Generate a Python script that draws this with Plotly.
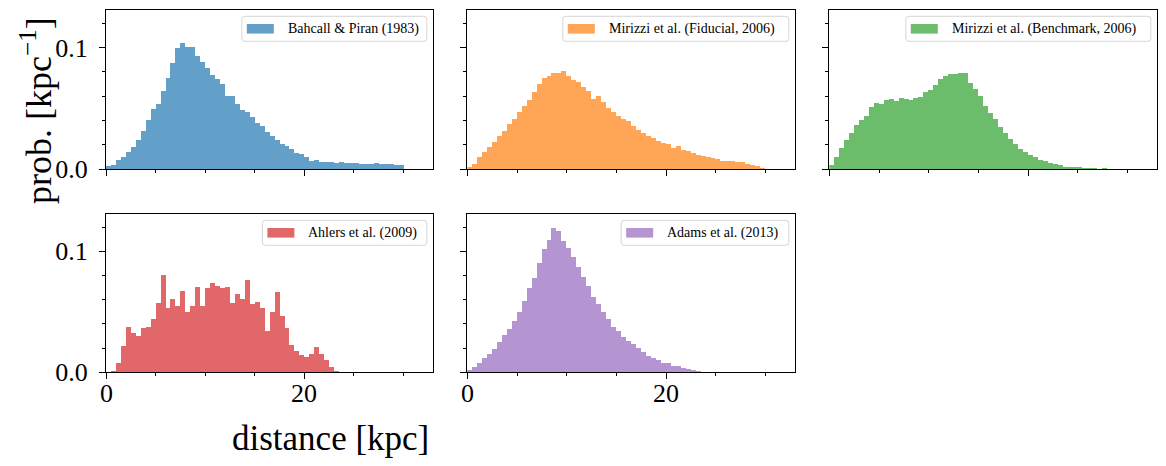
import plotly.graph_objects as go

# ---------------- data (bin heights, prob. per kpc, bin width 0.5 kpc from 0) ----------------
BIN_START = 0.0
BIN_WIDTH = 0.5

labels = ["Bahcall & Piran (1983)", "Mirizzi et al. (Fiducial, 2006)",
          "Mirizzi et al. (Benchmark, 2006)", "Ahlers et al. (2009)", "Adams et al. (2013)"]

X_TICKS = [0, 20]

bahcall = [0.0025, 0.0033, 0.0074, 0.0099, 0.0140, 0.0180, 0.0238, 0.0313, 0.0403, 0.0493,
           0.0535, 0.0641, 0.0748, 0.0872, 0.0995, 0.1036, 0.1003, 0.1003, 0.0929, 0.0880,
           0.0831, 0.0773, 0.0740, 0.0699, 0.0600, 0.0600, 0.0535, 0.0485, 0.0469, 0.0428,
           0.0378, 0.0354, 0.0304, 0.0271, 0.0238, 0.0206, 0.0189, 0.0164, 0.0132, 0.0123,
           0.0099, 0.0066, 0.0074, 0.0058, 0.0058, 0.0058, 0.0049, 0.0058, 0.0049, 0.0049,
           0.0049, 0.0041, 0.0041, 0.0041, 0.0049, 0.0041, 0.0041, 0.0041, 0.0033, 0.0033]

fiducial = [0.0016, 0.0041, 0.0099, 0.0140, 0.0180, 0.0222, 0.0271, 0.0313, 0.0370, 0.0411,
            0.0469, 0.0518, 0.0567, 0.0633, 0.0699, 0.0748, 0.0765, 0.0790, 0.0790, 0.0806,
            0.0765, 0.0732, 0.0715, 0.0674, 0.0641, 0.0576, 0.0600, 0.0551, 0.0502, 0.0469,
            0.0436, 0.0411, 0.0395, 0.0354, 0.0321, 0.0296, 0.0271, 0.0255, 0.0230, 0.0214,
            0.0206, 0.0173, 0.0189, 0.0156, 0.0148, 0.0132, 0.0115, 0.0107, 0.0099, 0.0090,
            0.0082, 0.0066, 0.0066, 0.0066, 0.0058, 0.0058, 0.0041, 0.0033, 0.0025, 0.0008]

benchmark = [0.0033, 0.0099, 0.0173, 0.0238, 0.0296, 0.0362, 0.0403, 0.0436, 0.0510, 0.0543,
             0.0535, 0.0567, 0.0576, 0.0559, 0.0584, 0.0576, 0.0567, 0.0584, 0.0592, 0.0633,
             0.0650, 0.0691, 0.0740, 0.0765, 0.0781, 0.0781, 0.0790, 0.0790, 0.0707, 0.0658,
             0.0600, 0.0518, 0.0461, 0.0411, 0.0345, 0.0296, 0.0247, 0.0206, 0.0164, 0.0140,
             0.0115, 0.0099, 0.0074, 0.0066, 0.0049, 0.0041, 0.0033, 0.0016, 0.0016, 0.0016,
             0.0016, 0.0008, 0.0008, 0.0008, 0.0000, 0.0008]

ahlers = [0.0000, 0.0008, 0.0074, 0.0214, 0.0368, 0.0321, 0.0297, 0.0360, 0.0368, 0.0434,
          0.0574, 0.0805, 0.0525, 0.0607, 0.0549, 0.0673, 0.0500, 0.0549, 0.0706, 0.0549,
          0.0698, 0.0739, 0.0714, 0.0698, 0.0706, 0.0574, 0.0648, 0.0607, 0.0764, 0.0558,
          0.0582, 0.0533, 0.0335, 0.0492, 0.0665, 0.0459, 0.0360, 0.0220, 0.0170, 0.0137,
          0.0121, 0.0146, 0.0203, 0.0146, 0.0096, 0.0038, 0.0008]

adams = [0.0016, 0.0041, 0.0074, 0.0115, 0.0148, 0.0187, 0.0247, 0.0302, 0.0352, 0.0418,
         0.0500, 0.0591, 0.0698, 0.0780, 0.0904, 0.1019, 0.1093, 0.1192, 0.1168, 0.1085,
         0.1027, 0.0953, 0.0871, 0.0788, 0.0714, 0.0624, 0.0558, 0.0500, 0.0434, 0.0376,
         0.0335, 0.0286, 0.0253, 0.0228, 0.0195, 0.0162, 0.0129, 0.0113, 0.0096, 0.0071,
         0.0071, 0.0047, 0.0047, 0.0030, 0.0025, 0.0016, 0.0008]

series = [bahcall, fiducial, benchmark, ahlers, adams]
colors = ["rgba(31,119,180,0.7)", "rgba(255,127,14,0.7)", "rgba(44,160,44,0.7)",
          "rgba(214,39,40,0.7)", "rgba(148,103,189,0.7)"]

# ---------------- layout geometry (pixels) ----------------
W, H = 1166, 466
FONT = "Liberation Serif"
cols = [(106, 433.3), (467.3, 795.3), (829.3, 1157.3)]
rows = [(10.3, 169.3), (214.3, 372.3)]
panel_pos = [(0, 0), (0, 1), (0, 2), (1, 0), (1, 1)]
legend_w = [185, 226, 245, 164.4, 167.6]
X_RANGE = [0, 33]
Y_RANGE = [0, 0.1306]
TICK_SIZE = 26


def px(x):
    return x / W


def py(y):
    return 1 - y / H


def rounded_rect(x0, y0, x1, y1, r):
    pts = []
    pts.append(f"M{px(x0 + r)},{py(y0)}")
    pts.append(f"L{px(x1 - r)},{py(y0)}")
    pts.append(f"Q{px(x1)},{py(y0)} {px(x1)},{py(y0 + r)}")
    pts.append(f"L{px(x1)},{py(y1 - r)}")
    pts.append(f"Q{px(x1)},{py(y1)} {px(x1 - r)},{py(y1)}")
    pts.append(f"L{px(x0 + r)},{py(y1)}")
    pts.append(f"Q{px(x0)},{py(y1)} {px(x0)},{py(y1 - r)}")
    pts.append(f"L{px(x0)},{py(y0 + r)}")
    pts.append(f"Q{px(x0)},{py(y0)} {px(x0 + r)},{py(y0)}")
    pts.append("Z")
    return " ".join(pts)


fig = go.Figure()
shapes = []
annotations = []

for i, (vals, col, lab) in enumerate(zip(series, colors, labels)):
    r, c = panel_pos[i]
    k = "" if i == 0 else str(i + 1)
    centers = [BIN_START + BIN_WIDTH * (j + 0.5) for j in range(len(vals))]
    fig.add_trace(go.Bar(x=centers, y=vals, width=BIN_WIDTH, name=lab,
                         marker=dict(color=col, line=dict(width=0)),
                         xaxis="x" + k, yaxis="y" + k, showlegend=False))
    x0, x1 = cols[c]
    y0, y1 = rows[r]
    axis_common = dict(showline=True, mirror=True, linecolor="black", linewidth=1.2,
                       showgrid=False, zeroline=False, ticks="outside", ticklen=6,
                       tickwidth=1.2, tickcolor="black", automargin=False,
                       tickfont=dict(family=FONT, size=TICK_SIZE, color="black"))
    fig.layout["xaxis" + k] = dict(
        axis_common, domain=[px(x0), px(x1)], range=X_RANGE, anchor="y" + k,
        tickmode="linear", tick0=0, dtick=20, showticklabels=False,
        minor=dict(ticks="outside", ticklen=3, tickwidth=1, tickcolor="black",
                   tick0=0, dtick=5, showgrid=False))
    fig.layout["yaxis" + k] = dict(
        axis_common, domain=[py(y1), py(y0)], range=Y_RANGE, anchor="x" + k,
        tickmode="linear", tick0=0, dtick=0.1, tickformat=".1f",
        showticklabels=(c == 0), ticklabelstandoff=6,
        minor=dict(ticks="outside", ticklen=3, tickwidth=1, tickcolor="black",
                   tick0=0, dtick=0.02, showgrid=False))

    # x tick labels for the bottom row (placed via the axis' own data coordinates)
    if r == 1:
        for t in X_TICKS:
            annotations.append(dict(text=str(t), x=t, xref="x" + k, y=py(y1 + 21), yref="paper",
                                    xanchor="center", yanchor="middle", showarrow=False,
                                    font=dict(family=FONT, size=TICK_SIZE, color="black")))

    # legend box (matplotlib style)
    bx1 = x1 - 6.5
    bx0 = bx1 - legend_w[i]
    by0 = y0 + 6
    by1 = by0 + 25
    shapes.append(dict(type="path", xref="paper", yref="paper",
                       path=rounded_rect(bx0, by0, bx1, by1, 3),
                       fillcolor="rgba(255,255,255,0.8)",
                       line=dict(color="rgba(204,204,204,0.8)", width=1)))
    cy = (by0 + by1) / 2
    shapes.append(dict(type="rect", xref="paper", yref="paper",
                       x0=px(bx0 + 5), x1=px(bx0 + 32), y0=py(cy + 4.8), y1=py(cy - 4.8),
                       fillcolor=col, line=dict(width=0)))
    annotations.append(dict(text=lab, x=px(bx0 + 44), y=py(cy), xref="paper", yref="paper",
                            xanchor="left", yanchor="middle", showarrow=False,
                            font=dict(family=FONT, size=14, color="black")))

annotations.append(dict(text="distance [kpc]", x=px(330), y=py(438), xref="paper", yref="paper",
                        xanchor="center", yanchor="middle", showarrow=False,
                        font=dict(family=FONT, size=35, color="black")))
annotations.append(dict(text="prob. [kpc<sup>−1</sup>]", x=px(36), y=py(111), xref="paper",
                        yref="paper", xanchor="center", yanchor="middle", showarrow=False,
                        textangle=-90, font=dict(family=FONT, size=36, color="black")))

fig.update_layout(width=W, height=H, margin=dict(l=0, r=0, t=0, b=0, autoexpand=False),
                  paper_bgcolor="white", plot_bgcolor="white",
                  bargap=0, barmode="overlay", showlegend=False,
                  shapes=shapes, annotations=annotations,
                  font=dict(family=FONT, color="black"))

fig.write_html("out.html")
